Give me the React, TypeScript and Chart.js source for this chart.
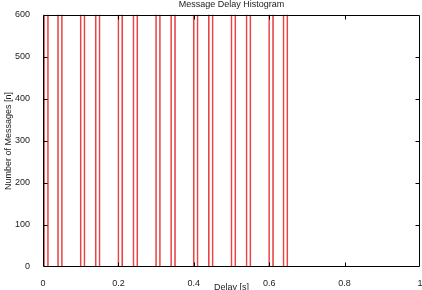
import React, { useEffect, useRef } from "react";
import { Chart, registerables } from "chart.js";

Chart.register(...registerables);

// Histogram bins (bin centre in seconds) and counts (all exceed the 600 axis max and are clipped)
const binCenters: number[] = [0.008, 0.045, 0.105, 0.145, 0.205, 0.245, 0.305, 0.345, 0.405, 0.445, 0.505, 0.545, 0.605, 0.643];
const binCounts: number[] = [1000, 1000, 1000, 1000, 1000, 1000, 1000, 1000, 1000, 1000, 1000, 1000, 1000, 1000];
const xTicks: number[] = [0, 0.2, 0.4, 0.6, 0.8, 1];
const yTicks: number[] = [0, 100, 200, 300, 400, 500, 600];

const frameTicks = {
  id: "frameTicks",
  afterDatasetsDraw(chart: any) {
    const { ctx, chartArea } = chart;
    const { left, right, top, bottom } = chartArea;
    const x = chart.scales.x;
    const y = chart.scales.y;
    const L = Math.round(left) + 0.5;
    const R = Math.round(right) - 0.5;
    const T = Math.round(top) + 0.5;
    const B = Math.round(bottom) - 0.5;
    ctx.save();
    ctx.strokeStyle = "#000";
    ctx.lineWidth = 1;
    ctx.beginPath();
    ctx.rect(L, T, R - L, B - T);
    const len = 4;
    xTicks.slice(1, -1).forEach((v) => {
      const px = Math.round(x.getPixelForValue(v)) + 0.5;
      ctx.moveTo(px, B);
      ctx.lineTo(px, B - len);
      ctx.moveTo(px, T);
      ctx.lineTo(px, T + len);
    });
    yTicks.slice(1, -1).forEach((v) => {
      const py = Math.round(y.getPixelForValue(v)) + 0.5;
      ctx.moveTo(L, py);
      ctx.lineTo(L + len, py);
      ctx.moveTo(R, py);
      ctx.lineTo(R - len, py);
    });
    ctx.stroke();
    ctx.restore();
  },
};

export default function App() {
  const ref = useRef<HTMLCanvasElement | null>(null);
  useEffect(() => {
    if (!ref.current) return;
    Chart.defaults.font.family = "'Liberation Sans', Arial, sans-serif";
    Chart.defaults.font.size = 9;
    Chart.defaults.color = "#222";
    const chart = new Chart(ref.current, {
      type: "bar",
      data: {
        datasets: [
          {
            data: binCenters.map((c, i) => ({ x: c, y: binCounts[i] })),
            backgroundColor: "rgba(0,0,0,0)",
            borderColor: "rgba(228,20,20,0.8)",
            borderWidth: 1,
            barThickness: 5,
            clip: 0,
          } as any,
        ],
      },
      options: {
        animation: false,
        responsive: false,
        devicePixelRatio: 1,
        layout: { padding: { left: 0, right: 2, top: 0, bottom: 0 } },
        plugins: {
          legend: { display: false },
          tooltip: { enabled: false },
          title: {
            display: true,
            fullSize: false,
            text: "Message Delay Histogram",
            font: { size: 9, weight: "normal" },
            color: "#222",
            padding: { top: -1, bottom: 5 },
          },
        },
        scales: {
          x: {
            type: "linear",
            min: 0,
            max: 1,
            offset: false,
            grid: { display: false },
            border: { display: false },
            afterBuildTicks: (s: any) => {
              s.ticks = xTicks.map((v) => ({ value: v }));
            },
            ticks: {
              padding: 3,
              maxRotation: 0,
              callback: (v: any) => String(+Number(v).toFixed(2)),
            },
            title: { display: true, text: "Delay [s]", padding: { top: 0, bottom: -3 } },
            afterFit: (s: any) => {
              s.height = 23;
              s.paddingLeft = 0;
              s.paddingRight = 0;
            },
          },
          y: {
            min: 0,
            max: 600,
            grid: { display: false },
            border: { display: false },
            afterBuildTicks: (s: any) => {
              s.ticks = yTicks.map((v) => ({ value: v }));
            },
            ticks: { padding: 5 },
            title: { display: true, text: "Number of Messages [n]", padding: { top: 3, bottom: 0 } },
            afterFit: (s: any) => {
              s.width = 43;
            },
          },
        },
      },
      plugins: [frameTicks],
    } as any);
    return () => chart.destroy();
  }, []);
  return (
    <div style={{ position: "absolute", left: 0, top: 0, width: 422, height: 290, background: "#fff" }}>
      <canvas ref={ref} width={422} height={290} style={{ display: "block" }} />
    </div>
  );
}
